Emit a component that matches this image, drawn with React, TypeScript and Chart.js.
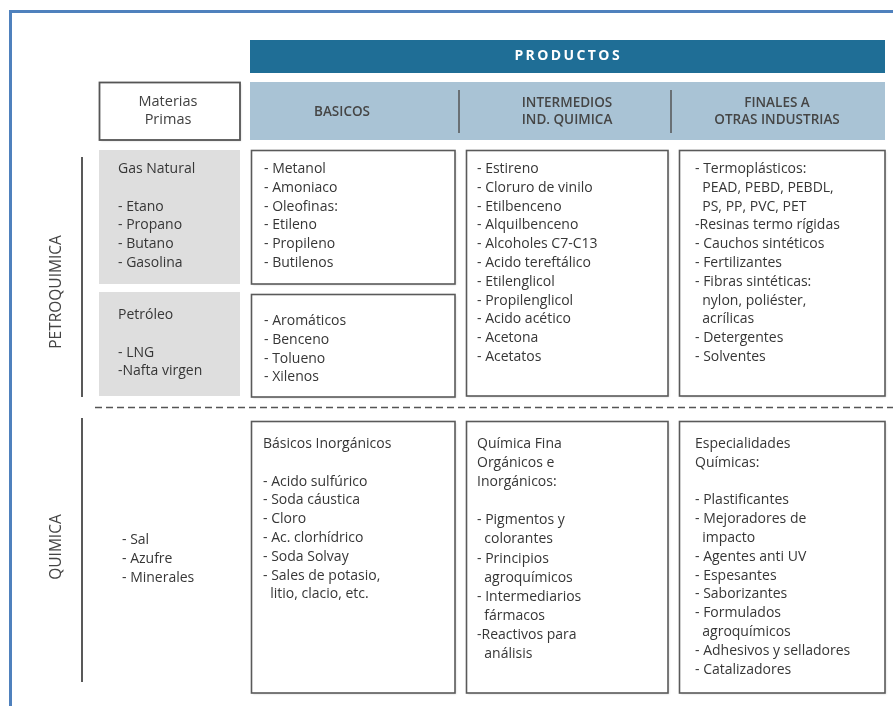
import React, { useEffect, useRef } from "react";
import { Chart, registerables } from "chart.js";
Chart.register(...registerables);

const W = 893;
const H = 706;

// ---- text content ----
const titleText = "PRODUCTOS";
const rawHeader = ["Materias", "Primas"];
const basicosHeader = ["BASICOS"];
const intermediosHeader = ["INTERMEDIOS", "IND. QUIMICA"];
const finalesHeader = ["FINALES A", "OTRAS INDUSTRIAS"];
const sectionLabels = ["PETROQUIMICA", "QUIMICA"];

const gasNatural = ["Gas Natural", "", "- Etano", "- Propano", "- Butano", "- Gasolina"];
const petroleo = ["Petróleo", "", "- LNG", "-Nafta virgen"];
const quimicaRaw = ["- Sal", "- Azufre", "- Minerales"];

const basicosPetro1 = ["- Metanol", "- Amoniaco", "- Oleofinas:", "- Etileno", "- Propileno", "- Butilenos"];
const basicosPetro2 = ["- Aromáticos", "- Benceno", "- Tolueno", "- Xilenos"];
const intermediosPetro = [
  "- Estireno",
  "- Cloruro de vinilo",
  "- Etilbenceno",
  "- Alquilbenceno",
  "- Alcoholes C7-C13",
  "- Acido tereftálico",
  "- Etilenglicol",
  "- Propilenglicol",
  "- Acido acético",
  "- Acetona",
  "- Acetatos",
];
const finalesPetro = [
  "- Termoplásticos:",
  "  PEAD, PEBD, PEBDL,",
  "  PS, PP, PVC, PET",
  "-Resinas termo rígidas",
  "- Cauchos sintéticos",
  "- Fertilizantes",
  "- Fibras sintéticas:",
  "  nylon, poliéster,",
  "  acrílicas",
  "- Detergentes",
  "- Solventes",
];
const basicosQuim = [
  "Básicos Inorgánicos",
  "",
  "- Acido sulfúrico",
  "- Soda cáustica",
  "- Cloro",
  "- Ac. clorhídrico",
  "- Soda Solvay",
  "- Sales de potasio,",
  "  litio, clacio, etc.",
];
const intermediosQuim = [
  "Química Fina",
  "Orgánicos e",
  "Inorgánicos:",
  "",
  "- Pigmentos y",
  "  colorantes",
  "- Principios",
  "  agroquímicos",
  "- Intermediarios",
  "  fármacos",
  "-Reactivos para",
  "  análisis",
];
const finalesQuim = [
  "Especialidades",
  "Químicas:",
  "",
  "- Plastificantes",
  "- Mejoradores de",
  "  impacto",
  "- Agentes anti UV",
  "- Espesantes",
  "- Saborizantes",
  "- Formulados",
  "  agroquímicos",
  "- Adhesivos y selladores",
  "- Catalizadores",
];

// ---- layout (positions / styles) ----
const FONT = "'Open Sans', 'Noto Sans', sans-serif";
const TEXT_COLOR = "#363636";
const LINE_H = 18.8;

type Rect = [number, number, number, number];

const diagramPlugin = {
  id: "diagram",
  afterDraw(chart: any) {
    const ctx: CanvasRenderingContext2D = chart.ctx;
    const sx = chart.scales.x;
    const sy = chart.scales.y;
    const X = (v: number) => sx.getPixelForValue(v);
    const Y = (v: number) => sy.getPixelForValue(v);

    const fillRect = (r: Rect, color: string) => {
      ctx.fillStyle = color;
      ctx.fillRect(X(r[0]), Y(r[1]), X(r[2]) - X(r[0]), Y(r[3]) - Y(r[1]));
    };
    const strokeRect = (r: Rect, color: string, w: number) => {
      ctx.save();
      ctx.shadowColor = "rgba(0,0,0,0.18)";
      ctx.shadowBlur = 2;
      ctx.shadowOffsetX = 1;
      ctx.shadowOffsetY = 1;
      ctx.fillStyle = "#ffffff";
      ctx.fillRect(X(r[0]), Y(r[1]), X(r[2]) - X(r[0]), Y(r[3]) - Y(r[1]));
      ctx.restore();
      ctx.strokeStyle = color;
      ctx.lineWidth = w;
      ctx.strokeRect(X(r[0]), Y(r[1]), X(r[2]) - X(r[0]), Y(r[3]) - Y(r[1]));
    };
    const line = (x0: number, y0: number, x1: number, y1: number, color: string, w: number, dash: number[] = []) => {
      ctx.save();
      ctx.strokeStyle = color;
      ctx.lineWidth = w;
      ctx.setLineDash(dash);
      ctx.beginPath();
      ctx.moveTo(X(x0), Y(y0));
      ctx.lineTo(X(x1), Y(y1));
      ctx.stroke();
      ctx.restore();
    };
    const textBlock = (lines: string[], x: number, y: number, font: string, color: string, align: CanvasTextAlign = "left", lh = LINE_H) => {
      ctx.save();
      ctx.font = font;
      ctx.fillStyle = color;
      ctx.textAlign = align;
      ctx.textBaseline = "middle";
      lines.forEach((t, i) => {
        if (t) ctx.fillText(t, X(x), Y(y + i * lh));
      });
      ctx.restore();
    };

    ctx.save();
    // outer frame
    line(10.5, 11.5, W, 11.5, "#4f81bd", 3);
    line(10.5, 10, 10.5, H, "#4f81bd", 3);

    // PRODUCTOS band
    fillRect([250, 40, 885, 73], "#1f6e96");
    ctx.save();
    ctx.font = `bold 14px ${FONT}`;
    ctx.fillStyle = "#ffffff";
    ctx.textBaseline = "middle";
    const spacing = 2.4;
    const letters = titleText.split("");
    const widths = letters.map((c) => ctx.measureText(c).width);
    const total = widths.reduce((a, b) => a + b, 0) + spacing * (letters.length - 1);
    let cx = X(567) - total / 2;
    letters.forEach((c, i) => {
      ctx.fillText(c, cx, Y(56));
      cx += widths[i] + spacing;
    });
    ctx.restore();

    // header band
    fillRect([250, 82, 885, 140], "#a9c3d5");
    line(459, 90, 459, 133, "#555555", 1.5);
    line(671, 90, 671, 133, "#555555", 1.5);
    const headFont = `600 13.5px ${FONT}`;
    textBlock(basicosHeader, 342, 112, headFont, "#454545", "center");
    textBlock(intermediosHeader, 567, 103, headFont, "#454545", "center", 17);
    textBlock(finalesHeader, 777, 103, headFont, "#454545", "center", 17);

    // Materias primas box
    strokeRect([99.5, 82.5, 240, 140], "#555555", 1.8);
    textBlock(rawHeader, 168, 102, `14.5px ${FONT}`, "#404040", "center", 18);

    // gray raw material boxes
    fillRect([99, 150, 240, 284], "#dedede");
    fillRect([99, 292, 240, 396], "#dedede");

    // product boxes
    const boxColor = "#5a5a5a";
    strokeRect([251.5, 150.5, 455, 284], boxColor, 1.6);
    strokeRect([251.5, 294.5, 455, 397], boxColor, 1.6);
    strokeRect([466.5, 150.5, 668, 396], boxColor, 1.6);
    strokeRect([679.5, 150.5, 885, 396], boxColor, 1.6);
    strokeRect([251.5, 421.5, 455, 693], boxColor, 1.6);
    strokeRect([466.5, 421.5, 668, 693], boxColor, 1.6);
    strokeRect([679.5, 421.5, 885, 693], boxColor, 1.6);

    // dashed separator
    line(95, 407.5, W, 407.5, "#555555", 1.6, [7, 4]);

    // section lines
    line(82, 157, 82, 397, "#222222", 1.5);
    line(82, 418, 82, 682, "#222222", 1.5);

    // section labels (rotated)
    const vText = (t: string, x: number, y: number) => {
      ctx.save();
      ctx.translate(X(x), Y(y));
      ctx.rotate(-Math.PI / 2);
      ctx.font = `15.5px ${FONT}`;
      ctx.fillStyle = "#444444";
      ctx.textAlign = "center";
      ctx.textBaseline = "middle";
      ctx.fillText(t, 0, 0);
      ctx.restore();
    };
    vText(sectionLabels[0], 57, 292);
    vText(sectionLabels[1], 57, 547);

    // text blocks
    const bodyFont = `14px ${FONT}`;
    textBlock(gasNatural, 118, 169, bodyFont, TEXT_COLOR);
    textBlock(petroleo, 118, 315, bodyFont, TEXT_COLOR);
    textBlock(quimicaRaw, 122, 540, bodyFont, TEXT_COLOR);
    textBlock(basicosPetro1, 264, 169, bodyFont, TEXT_COLOR);
    textBlock(basicosPetro2, 264, 321, bodyFont, TEXT_COLOR);
    textBlock(intermediosPetro, 477, 169, bodyFont, TEXT_COLOR);
    textBlock(finalesPetro, 695, 169, bodyFont, TEXT_COLOR);
    textBlock(basicosQuim, 263, 444, bodyFont, TEXT_COLOR);
    textBlock(intermediosQuim, 477, 444, bodyFont, TEXT_COLOR, "left", 19.1);
    textBlock(finalesQuim, 695, 444, bodyFont, TEXT_COLOR);
    ctx.restore();
  },
};

export default function App() {
  const ref = useRef<HTMLCanvasElement | null>(null);
  useEffect(() => {
    document.body.style.margin = "0";
    if (!ref.current) return;
    const chart = new Chart(ref.current, {
      type: "scatter",
      data: { datasets: [] },
      options: {
        animation: false,
        responsive: false,
        maintainAspectRatio: false,
        layout: { padding: 0 },
        plugins: { legend: { display: false }, tooltip: { enabled: false } },
        scales: {
          x: { type: "linear", min: 0, max: W, display: false },
          y: { type: "linear", min: 0, max: H, reverse: true, display: false },
        },
      },
      plugins: [diagramPlugin],
    });
    return () => chart.destroy();
  }, []);
  return (
    <div style={{ position: "absolute", left: 0, top: 0, width: W, height: H, background: "#fff" }}>
      <canvas ref={ref} width={W} height={H} style={{ display: "block", width: W, height: H }} />
    </div>
  );
}
